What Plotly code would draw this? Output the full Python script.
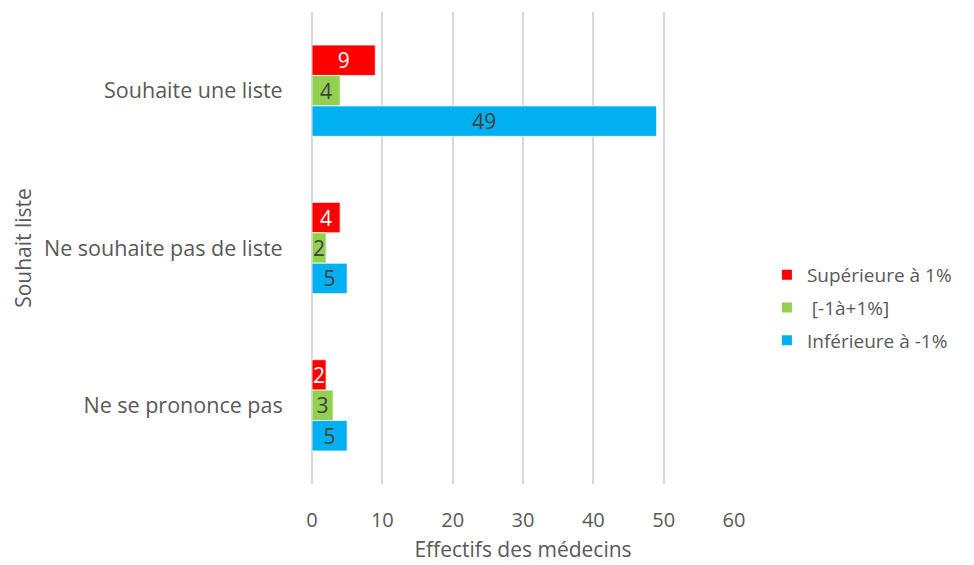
import plotly.graph_objects as go

categories = ["Souhaite une liste", "Ne souhaite pas de liste", "Ne se prononce pas"]
series_names = ["Supérieure à 1%", " [-1à+1%]", "Inférieure à -1%"]
sup_1 = [9, 4, 2]
entre = [4, 2, 3]
inf_1 = [49, 5, 5]
x_ticks = [0, 10, 20, 30, 40, 50, 60]

colors = ["#FF0000", "#92D050", "#00B0F0"]
text_colors = ["#FFFFFF", "#404040", "#404040"]
FONT = "Open Sans, Segoe UI, sans-serif"
GREY = "#595959"

fig = go.Figure()
for i, (name, vals, col, tcol) in enumerate(zip(series_names, [sup_1, entre, inf_1], colors, text_colors)):
    fig.add_trace(go.Bar(
        y=categories, x=vals, name=name, orientation="h", legendgroup=f"g{i}",
        marker=dict(color=col, line=dict(color="white", width=0.75)),
        text=vals, textposition="inside", insidetextanchor="middle",
        constraintext="none", textangle=0, cliponaxis=False,
        textfont=dict(color=tcol, size=21, family=FONT),
    ))

# the page body adds an 8px offset, so margins are shifted to compensate
fig.update_layout(
    width=974, height=565,
    barmode="group", bargap=0.42, bargroupgap=0,
    paper_bgcolor="white", plot_bgcolor="white",
    margin=dict(l=304, r=248, t=4, b=89, autoexpand=False),
    font=dict(family=FONT, size=20, color=GREY),
    legend=dict(x=1.078, xanchor="left", y=0.373, yanchor="middle",
                traceorder="grouped", font=dict(size=19, color=GREY),
                tracegroupgap=5, itemsizing="constant"),
)
fig.update_xaxes(
    range=[0, 60], tickvals=x_ticks, showgrid=True, gridcolor="#D9D9D9", gridwidth=2,
    zeroline=True, zerolinecolor="#D9D9D9", zerolinewidth=2,
    showline=False, ticks="outside", ticklen=18, tickcolor="rgba(0,0,0,0)",
    tickfont=dict(size=20, color=GREY),
    title=dict(text="Effectifs des médecins", font=dict(size=21, color=GREY), standoff=10),
)
fig.update_yaxes(
    autorange="reversed", showgrid=False, showline=False,
    ticks="outside", ticklen=24, tickcolor="rgba(0,0,0,0)",
    tickfont=dict(size=21.5, color=GREY),
    title=dict(text="Souhait liste", font=dict(size=21, color=GREY), standoff=6),
)

fig.write_html("out.html")
